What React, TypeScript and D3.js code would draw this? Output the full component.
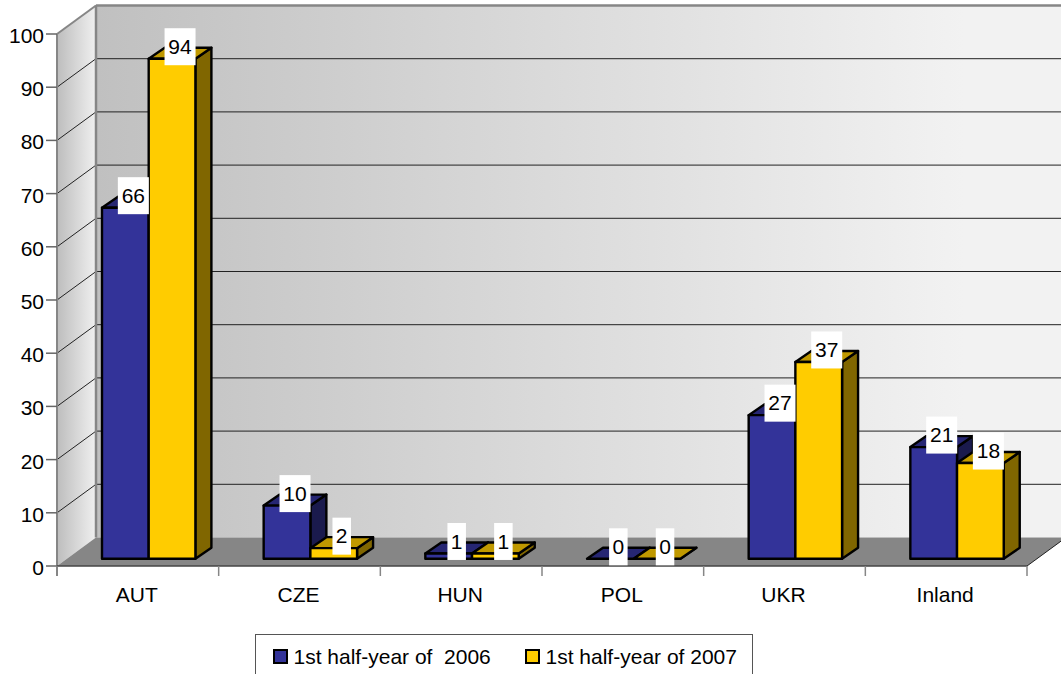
import React from "react";
import * as d3 from "d3";

const categories = ["AUT", "CZE", "HUN", "POL", "UKR", "Inland"];
const seriesNames = ["1st half-year of  2006", "1st half-year of 2007"];
const values2006 = [66, 10, 1, 0, 27, 21];
const values2007 = [94, 2, 1, 0, 37, 18];
const yTicks = [0, 10, 20, 30, 40, 50, 60, 70, 80, 90, 100];

const W = 1061, H = 674;
const FONT = "'Liberation Sans', Arial, sans-serif";
const wallDx = 39, wallDy = 28.5;
const barInsetY = 7.2, barDx = 16, barDy = 11, barLeft = 45, barW = 46.7;

const x = d3.scaleBand<string>().domain(categories).range([57, 1027]).paddingInner(0).paddingOuter(0);
const y = d3.scaleLinear().domain([0, 100]).range([566, 34]);

const fills = [
  { front: "#333399", top: "#262673", side: "#1a1a4d" },
  { front: "#ffcc00", top: "#c09900", side: "#806600" },
];
const series = [values2006, values2007];

const poly = (pts: [number, number][]) => (d3.line()(pts) ?? "") + "Z";

export default function App() {
  const y0 = y(0), y100 = y(100);
  const backL = 57 + wallDx;
  return (
    <svg width={W} height={H} viewBox={`0 0 ${W} ${H}`} style={{ position: "absolute", left: 0, top: 0, display: "block" }} fontFamily={FONT} fill="#000">
      <defs>
        <linearGradient id="back" x1="0" x2="1" y1="0" y2="0">
          <stop offset="0" stopColor="#c0c0c0" />
          <stop offset="0.9" stopColor="#f2f2f2" />
          <stop offset="1" stopColor="#f2f2f2" />
        </linearGradient>
        <linearGradient id="left" x1="0" x2="1" y1="0" y2="0">
          <stop offset="0" stopColor="#bdbdbd" />
          <stop offset="1" stopColor="#f0f0f0" />
        </linearGradient>
      </defs>
      <rect width={W} height={H} fill="#fff" />
      {/* walls */}
      <rect x={backL} y={y100 - wallDy} width={W - backL} height={y0 - y100} fill="url(#back)" />
      <path d={poly([[57, y100], [backL, y100 - wallDy], [backL, y0 - wallDy], [57, y0]])} fill="url(#left)" />
      <path d={poly([[57, y0], [1027, y0], [1027 + wallDx, y0 - wallDy], [backL, y0 - wallDy]])} fill="#868686" />
      {/* gridlines */}
      {yTicks.filter(t => t > 0 && t < 100).map(t => (
        <g key={t} stroke="#222" strokeWidth={1}>
          <line x1={backL} x2={W} y1={y(t) - wallDy} y2={y(t) - wallDy} />
          <line x1={57} x2={backL} y1={y(t)} y2={y(t) - wallDy} />
        </g>
      ))}
      {/* wall frame */}
      <g stroke="#868686" fill="none">
        <line x1={backL} x2={W} y1={y100 - wallDy} y2={y100 - wallDy} strokeWidth={2.5} />
        <line x1={backL} x2={backL} y1={y100 - wallDy} y2={y0 - wallDy} strokeWidth={2.5} />
        <line x1={57} x2={backL} y1={y100} y2={y100 - wallDy} strokeWidth={2} />
        <line x1={57} x2={57} y1={y100} y2={y0 + 10} strokeWidth={2} />
      </g>
      <line x1={1027} x2={W} y1={y0} y2={y0 - (W - 1027) * wallDy / wallDx} stroke="#222" strokeWidth={1} />
      {/* axes */}
      <line x1={57} x2={1027} y1={y0} y2={y0} stroke="#444" strokeWidth={1.5} />
      {yTicks.map(t => (
        <g key={t}>
          <line x1={46} x2={57} y1={y(t)} y2={y(t)} stroke="#666" strokeWidth={1.5} />
          <text x={44} y={y(t) + 1.5} dy="0.36em" textAnchor="end" fontSize={21}>{t}</text>
        </g>
      ))}
      {categories.map(c => (
        <g key={c}>
          <line x1={x(c)!} x2={x(c)!} y1={y0} y2={y0 + 10} stroke="#868686" strokeWidth={1.5} />
          <text x={x(c)! + x.bandwidth() / 2 - 1} y={602} textAnchor="middle" fontSize={21}>{c}</text>
        </g>
      ))}
      <line x1={1027} x2={1027} y1={y0} y2={y0 + 10} stroke="#868686" strokeWidth={1.5} />
      {/* bars */}
      {categories.map((c, i) => (
        <g key={c}>
          {series.map((vals, s) => {
            const xa = x(c)! + barLeft + s * barW, xb = xa + barW;
            const base = y0 - barInsetY, top = y(vals[i]) - barInsetY;
            const common = { stroke: "#000", strokeWidth: 2.4, strokeLinejoin: "round" as const };
            return (
              <g key={s}>
                <path d={poly([[xb, top], [xb + barDx, top - barDy], [xb + barDx, base - barDy], [xb, base]])} fill={fills[s].side} {...common} />
                <path d={poly([[xa, top], [xa + barDx, top - barDy], [xb + barDx, top - barDy], [xb, top]])} fill={fills[s].top} {...common} />
                <rect x={xa} y={top} width={barW} height={base - top} fill={fills[s].front} {...common} />
              </g>
            );
          })}
        </g>
      ))}
      {/* data labels */}
      {categories.map((c, i) => series.map((vals, s) => {
        const cx = x(c)! + barLeft + s * barW + barW / 2 + 8;
        const cy = y(vals[i]) - barInsetY - 12;
        const w = String(vals[i]).length > 1 ? 31 : 18.5;
        return (
          <g key={c + s}>
            <rect x={cx - w / 2} y={cy - 18.5} width={w} height={37} fill="#fff" />
            <text x={cx} y={cy - 0.5} dy="0.36em" textAnchor="middle" fontSize={21}>{vals[i]}</text>
          </g>
        );
      }))}
      {/* legend */}
      <rect x={255.5} y={634.5} width={497} height={60} fill="#fff" stroke="#555" strokeWidth={1} />
      {seriesNames.map((n, s) => {
        const lx = [274, 526][s];
        return (
          <g key={n}>
            <rect x={lx} y={650} width={13} height={13} fill={fills[s].front} stroke="#000" strokeWidth={2} />
            <text x={lx + 19.5} y={664} fontSize={21} style={{ whiteSpace: "pre" }} xmlSpace="preserve">{n}</text>
          </g>
        );
      })}
    </svg>
  );
}
